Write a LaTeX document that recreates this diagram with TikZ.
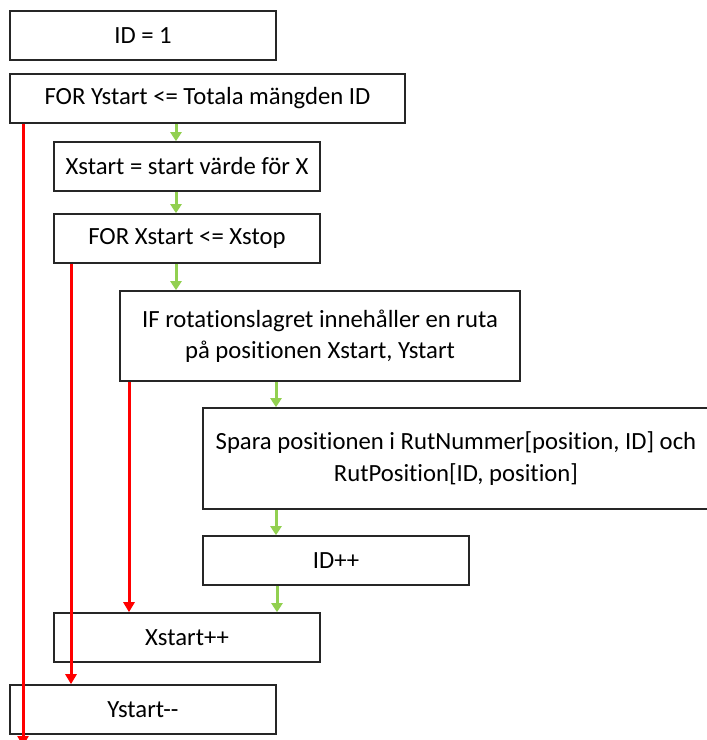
\documentclass[tikz,border=0pt]{standalone}
\usepackage{fontspec}
\setmainfont{Carlito}[Ligatures=NoCommon]
\usetikzlibrary{arrows.meta}
\definecolor{okgreen}{RGB}{146,208,80}
\begin{document}
\begin{tikzpicture}[x=1pt,y=-1pt,
  box/.style={draw=black!85,line width=1.6pt,fill=white,inner sep=0pt,align=center,
    font=\fontsize{24.7}{31.5}\selectfont},
  yes/.style={draw=okgreen,line width=3pt,-{Triangle[width=11pt,length=9pt]}},
  no/.style={draw=red,line width=3pt,-{Triangle[width=11pt,length=10pt]}}]
\useasboundingbox[fill=white] (0,0) rectangle (707,740);
% boxes, placed by their centres
\node[box,minimum width=266pt,minimum height=49pt] (init) at (143,35.5) {ID = 1};
\node[box,minimum width=395pt,minimum height=49pt] (yloop) at (207.5,98.5) {FOR Ystart <= Totala mängden ID};
\node[box,minimum width=266pt,minimum height=49pt] (xinit) at (187,166.5) {Xstart = start värde för X};
\node[box,minimum width=266pt,minimum height=49pt] (xloop) at (187,238.5) {FOR Xstart <= Xstop};
\node[box,minimum width=400pt,minimum height=90pt] (test) at (320,336) {IF rotationslagret innehåller en ruta\\på positionen Xstart, Ystart};
\node[box,minimum width=510pt,minimum height=101pt] (save) at (458,458.5) {\hspace*{-4pt}Spara positionen i RutNummer[position, ID] och\\\hspace*{-4pt}RutPosition[ID, position]};
\node[box,minimum width=266pt,minimum height=49pt] (incid) at (336,560.5) {ID++};
\node[box,minimum width=266pt,minimum height=49pt] (incx) at (187,637.5) {Xstart++};
\node[box,minimum width=266pt,minimum height=49pt] (decy) at (143,709.5) {Ystart-{}-};
% x positions of the vertical connectors
\coordinate (ga) at (176,0);
\coordinate (gb) at (276,0);
\coordinate (ra) at (23,0);
\coordinate (rb) at (71,0);
\coordinate (rc) at (129,0);
\coordinate (yend) at (23,746);
% normal flow
\draw[yes] (yloop.south -| ga) -- (xinit.north -| ga);
\draw[yes] (xinit.south -| ga) -- (xloop.north -| ga);
\draw[yes] (xloop.south -| ga) -- (test.north -| ga);
\draw[yes] (test.south -| gb) -- (save.north -| gb);
\draw[yes] (save.south -| gb) -- (incid.north -| gb);
\draw[yes] ([xshift=1pt]incid.south -| gb) -- ([xshift=1pt]incx.north -| gb);
% exits
\draw[no] (test.south -| rc) -- (incx.north -| rc);
\draw[no] (xloop.south -| rb) -- (decy.north -| rb);
\draw[no] (yloop.south -| ra) -- (yend);
\end{tikzpicture}
\end{document}
